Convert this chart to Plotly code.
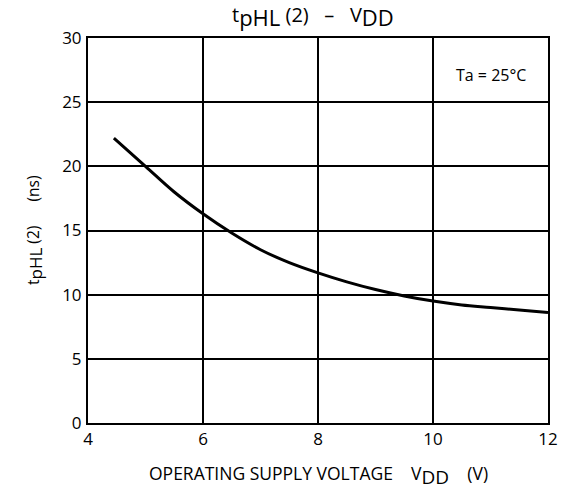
import plotly.graph_objects as go

vdd = [4.45, 5.0, 5.5, 6.0, 6.5, 7.0, 7.5, 8.0, 8.5, 9.0, 9.5, 10.0, 10.5, 11.0, 11.5, 12.0]
tphl = [22.2, 20.0, 18.0, 16.3, 14.8, 13.5, 12.5, 11.7, 11.0, 10.4, 9.9, 9.5, 9.2, 9.0, 8.8, 8.6]
x_ticks = [4, 6, 8, 10, 12]
y_ticks = [0, 5, 10, 15, 20, 25, 30]

FONT = "Open Sans"

def big_sub(s, size):
    return "<sub><span style='font-size:%dpx'>%s</span></sub>" % (size, s)

fig = go.Figure()
fig.add_trace(go.Scatter(x=vdd, y=tphl, mode="lines", line=dict(color="black", width=3, shape="spline"),
                         showlegend=False, hoverinfo="skip"))

axis_common = dict(showgrid=True, gridcolor="black", gridwidth=2, showline=True, linecolor="black",
                   linewidth=2, mirror=True, zeroline=False, ticks="", automargin=False,
                   tickfont=dict(family=FONT, size=17, color="black"))

fig.update_xaxes(range=[4, 12], tickvals=x_ticks, **axis_common)
fig.update_yaxes(range=[0, 30], tickvals=y_ticks, ticklabelstandoff=1, **axis_common)

fig.add_annotation(text="t" + big_sub("pHL", 22) + " (2)   –   V" + big_sub("DD", 22),
                   xref="paper", yref="paper", x=0.49, y=1.0,
                   yshift=4, yanchor="bottom", showarrow=False, font=dict(family=FONT, size=20, color="black"))
fig.add_annotation(text="OPERATING SUPPLY VOLTAGE    V" + big_sub("DD", 19) + "    (V)",
                   xref="paper", yref="paper", x=0.5, y=0,
                   yshift=-36, yanchor="top", showarrow=False, font=dict(family=FONT, size=17.5, color="black"))
fig.add_annotation(text="t" + big_sub("pHL", 17) + " (2)      (ns)", xref="paper", yref="paper", x=0, y=0.5,
                   xshift=-68, textangle=-90, showarrow=False, font=dict(family=FONT, size=15.5, color="black"))
fig.add_annotation(text="Ta = 25°C", x=11.0, y=27.1, showarrow=False,
                   font=dict(family=FONT, size=16, color="black"))

fig.update_layout(width=562, height=492, margin=dict(l=88, r=14, t=38, b=69),
                  plot_bgcolor="white", paper_bgcolor="white")

fig.write_html("out.html", config={"displayModeBar": False},
               post_script="document.body.style.margin='0';document.body.style.overflow='hidden';")
